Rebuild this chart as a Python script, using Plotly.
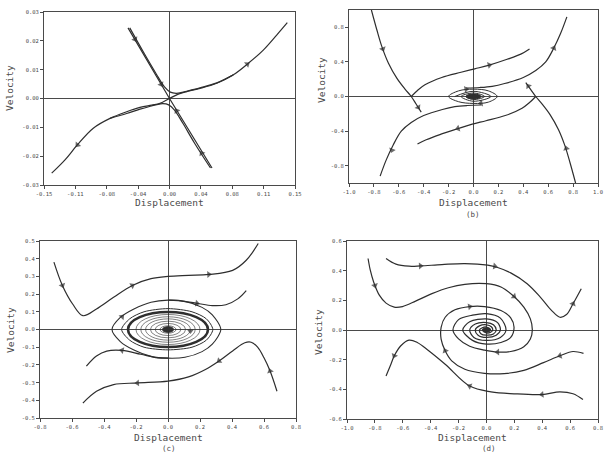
import plotly.graph_objects as go

# ---------------- data: panel (a) ----------------
a_x_ticks = [-0.15, -0.1125, -0.075, -0.0375, 0.0, 0.0375, 0.075, 0.1125, 0.15]
a_x_labels = ["-0.15", "-0.11", "-0.08", "-0.04", "0.00", "0.04", "0.08", "0.11", "0.15"]
a_y_ticks = [-0.03, -0.02, -0.01, 0.0, 0.01, 0.02, 0.03]
a_y_labels = ["-0.03", "-0.02", "-0.01", "0.00", "0.01", "0.02", "0.03"]

a_unst_x = [-0.1408, -0.1249, -0.1102, -0.0911, -0.0711, -0.0512, -0.0353, -0.0213, -0.0114, 0.0,
            0.0105, 0.0206, 0.0365, 0.0565, 0.0763, 0.0942, 0.1121, 0.1281, 0.1408]
a_unst_y = [-0.0259, -0.0213, -0.0161, -0.0103, -0.0069, -0.0046, -0.0031, -0.0023, -0.0017, 0.0,
            0.0015, 0.0024, 0.0035, 0.0053, 0.0082, 0.0122, 0.0168, 0.0220, 0.0263]
a_stab_x = [-0.0496, 0.0, 0.0508]
a_stab_y = [0.0245, 0.0, -0.0241]
a_h1_x = [-0.0475, -0.030, -0.016, -0.006, 0.001, 0.008, 0.015, 0.0215, 0.0365, 0.0565, 0.0763]
a_h1_y = [0.0245, 0.0155, 0.0086, 0.0040, 0.0022, 0.0018, 0.0021, 0.0026, 0.0037, 0.0054, 0.0082]
a_h2_x = [0.0490, 0.030, 0.016, 0.006, -0.001, -0.008, -0.015, -0.0215, -0.0353, -0.0512, -0.0711]
a_h2_y = [-0.0241, -0.0155, -0.0086, -0.0040, -0.0022, -0.0018, -0.0021, -0.0026, -0.0037, -0.0052, -0.0069]
a_arrow_x = [-0.0412, -0.0100, 0.0086, 0.0385, 0.0930, -0.1100]
a_arrow_y = [0.0205, 0.0049, -0.0043, -0.0190, 0.0119, -0.0161]
a_tail_x = [-0.0452, -0.0130, 0.0116, 0.0425, 0.0880, -0.1050]
a_tail_y = [0.0225, 0.0064, -0.0057, -0.0210, 0.0108, -0.0143]

# ---------------- data: panel (b) ----------------
b_x_ticks = [-1.0, -0.8, -0.6, -0.4, -0.2, 0.0, 0.2, 0.4, 0.6, 0.8, 1.0]
b_x_labels = ["-1.0", "-0.8", "-0.6", "-0.4", "-0.2", "0.0", "0.2", "0.4", "0.6", "0.8", "1.0"]
b_y_ticks = [-0.8, -0.4, 0.0, 0.4, 0.8]
b_y_labels = ["-0.8", "-0.4", "0.0", "0.4", "0.8"]

b_ls_x = [-0.82, -0.776, -0.736, -0.683, -0.616, -0.55, -0.50, -0.46, -0.42]
b_ls_y = [1.0, 0.769, 0.577, 0.385, 0.212, 0.085, 0.0, -0.09, -0.18]
b_rs_x = [0.42, 0.46, 0.50, 0.55, 0.616, 0.683, 0.736, 0.776, 0.82]
b_rs_y = [0.16, 0.08, 0.0, -0.085, -0.212, -0.385, -0.577, -0.769, -1.0]
b_up_x = [-0.50, -0.45, -0.39, -0.255, -0.10, 0.01, 0.12, 0.27, 0.38, 0.45]
b_up_y = [0.0, 0.07, 0.135, 0.22, 0.28, 0.32, 0.36, 0.43, 0.49, 0.55]
b_lo_x = [0.50, 0.45, 0.39, 0.255, 0.10, -0.01, -0.12, -0.27, -0.38, -0.45]
b_lo_y = [0.0, -0.07, -0.135, -0.22, -0.28, -0.32, -0.37, -0.44, -0.50, -0.55]
b_tr_x = [-0.06, 0.05, 0.15, 0.25, 0.40, 0.50, 0.58, 0.645, 0.70, 0.75]
b_tr_y = [0.098, 0.104, 0.118, 0.15, 0.22, 0.30, 0.40, 0.56, 0.73, 0.92]
b_bl_x = [0.06, -0.05, -0.15, -0.25, -0.40, -0.50, -0.58, -0.645, -0.70, -0.75]
b_bl_y = [-0.098, -0.104, -0.118, -0.15, -0.22, -0.30, -0.40, -0.56, -0.73, -0.92]
b_loop_x = [-0.20, -0.12, 0.0, 0.12, 0.19, 0.12, 0.0, -0.12, -0.20]
b_loop_y = [0.0, 0.065, 0.085, 0.065, 0.0, -0.065, -0.08, -0.06, 0.0]
b_spir_x = [-0.15, 0.0, 0.14, 0.0, -0.10, 0.0, 0.09, 0.0, -0.06, 0.0, 0.05, 0.0, -0.03, 0.0, 0.015]
b_spir_y = [0.0, 0.06, 0.0, -0.055, 0.0, 0.04, 0.0, -0.035, 0.0, 0.025, 0.0, -0.018, 0.0, 0.01, 0.0]
b_blob_rx = 0.06
b_blob_ry = 0.028
b_arrow_x = [-0.728, -0.444, 0.127, 0.645, 0.440, 0.745, -0.125, -0.655, -0.06, 0.06]
b_arrow_y = [0.550, -0.125, 0.363, 0.560, 0.120, -0.600, -0.370, -0.620, 0.084, -0.078]
b_tail_x = [-0.745, -0.460, 0.090, 0.625, 0.455, 0.755, -0.090, -0.640, -0.10, 0.10]
b_tail_y = [0.620, -0.090, 0.350, 0.500, 0.090, -0.660, -0.355, -0.560, 0.074, -0.068]

# ---------------- data: panel (c) ----------------
c_x_ticks = [-0.8, -0.6, -0.4, -0.2, 0.0, 0.2, 0.4, 0.6, 0.8]
c_x_labels = ["-0.8", "-0.6", "-0.4", "-0.2", "0.0", "0.2", "0.4", "0.6", "0.8"]
c_y_ticks = [-0.5, -0.4, -0.3, -0.2, -0.1, 0.0, 0.1, 0.2, 0.3, 0.4, 0.5]
c_y_labels = ["-0.5", "-0.4", "-0.3", "-0.2", "-0.1", "0.0", "0.1", "0.2", "0.3", "0.4", "0.5"]

c_top_x = [-0.713, -0.66, -0.596, -0.532, -0.447, -0.34, -0.223, -0.106, 0.0, 0.128, 0.255, 0.404, 0.489, 0.564]
c_top_y = [0.381, 0.249, 0.144, 0.078, 0.116, 0.182, 0.249, 0.287, 0.30, 0.306, 0.311, 0.334, 0.391, 0.486]
c_bup_x = [0.0, 0.064, 0.181, 0.277, 0.362, 0.436, 0.489]
c_bup_y = [0.166, 0.163, 0.148, 0.135, 0.14, 0.173, 0.22]
c_bdn_x = [0.0, -0.064, -0.17, -0.287, -0.383, -0.447, -0.51]
c_bdn_y = [-0.162, -0.16, -0.14, -0.118, -0.122, -0.15, -0.207]
c_bot_x = [0.681, 0.638, 0.60, 0.56, 0.52, 0.48, 0.404, 0.319, 0.234, 0.128, 0.0, -0.191, -0.34, -0.447, -0.532]
c_bot_y = [-0.349, -0.235, -0.16, -0.10, -0.072, -0.075, -0.121, -0.178, -0.226, -0.268, -0.292, -0.302, -0.311, -0.349, -0.416]
c_eye1_x = [-0.35, -0.298, -0.213, -0.106, 0.0, 0.106, 0.213, 0.277, 0.33, 0.277, 0.213, 0.106, 0.0, -0.106, -0.213, -0.298, -0.35]
c_eye1_y = [0.0, 0.068, 0.116, 0.154, 0.166, 0.159, 0.125, 0.083, 0.0, -0.083, -0.125, -0.157, -0.162, -0.152, -0.116, -0.068, 0.0]
c_eye2_x = [-0.29, -0.24, -0.15, 0.0, 0.15, 0.24, 0.28, 0.24, 0.15, 0.0, -0.15, -0.24, -0.29]
c_eye2_y = [0.0, 0.06, 0.10, 0.118, 0.10, 0.06, 0.0, -0.06, -0.10, -0.115, -0.10, -0.06, 0.0]
c_cycle_rx = 0.25
c_cycle_ry = 0.099
c_ring_rx = [0.20, 0.17, 0.14, 0.11, 0.08, 0.05]
c_ring_ry = [0.085, 0.072, 0.060, 0.047, 0.034, 0.021]
c_blob_r = [0.035, 0.016]
c_arrow_x = [-0.66, -0.223, 0.255, 0.181, -0.287, -0.191, 0.319, 0.638, -0.287, 0.14]
c_arrow_y = [0.249, 0.249, 0.311, 0.148, -0.118, -0.302, -0.178, -0.235, 0.072, -0.008]
c_tail_x = [-0.68, -0.26, 0.20, 0.13, -0.24, -0.12, 0.36, 0.655, -0.31, 0.14]
c_tail_y = [0.30, 0.23, 0.309, 0.155, -0.128, -0.298, -0.15, -0.29, 0.05, 0.008]

# ---------------- data: panel (d) ----------------
d_x_ticks = [-1.0, -0.8, -0.6, -0.4, -0.2, 0.0, 0.2, 0.4, 0.6, 0.8]
d_x_labels = ["-1.0", "-0.8", "-0.6", "-0.4", "-0.2", "0.0", "0.2", "0.4", "0.6", "0.8"]
d_y_ticks = [-0.6, -0.4, -0.2, 0.0, 0.2, 0.4, 0.6]
d_y_labels = ["-0.6", "-0.4", "-0.2", "0.0", "0.2", "0.4", "0.6"]

d_top_x = [-0.72, -0.649, -0.555, -0.473, -0.32, -0.155, 0.009, 0.08, 0.174, 0.292, 0.386, 0.468, 0.527, 0.574, 0.621, 0.68]
d_top_y = [0.482, 0.444, 0.43, 0.432, 0.441, 0.448, 0.437, 0.421, 0.385, 0.312, 0.222, 0.131, 0.086, 0.104, 0.177, 0.278]
d_a_x = [-0.849, -0.833, -0.809, -0.767, -0.72, -0.661, -0.602, -0.508, -0.391, -0.273, -0.155, 0.0, 0.104,
         0.198, 0.268, 0.315, 0.329, 0.315, 0.268, 0.174, 0.08, -0.014, -0.12, -0.20, -0.24, -0.20, -0.10,
         0.0, 0.10, 0.14, 0.10, 0.0, -0.09, -0.12, -0.08, 0.0, 0.05, 0.07, 0.05, 0.0, -0.04, -0.05, -0.03,
         0.0, 0.02, 0.03, 0.0]
d_a_y = [0.482, 0.403, 0.324, 0.233, 0.181, 0.154, 0.158, 0.195, 0.245, 0.285, 0.308, 0.312, 0.29,
         0.226, 0.154, 0.075, 0.0, -0.061, -0.113, -0.145, -0.149, -0.136, -0.11, -0.06, 0.0, 0.07, 0.10,
         0.11, 0.08, 0.0, -0.05, -0.07, -0.05, 0.0, 0.04, 0.05, 0.035, 0.0, -0.027, -0.035, -0.025, 0.0, 0.015,
         0.02, 0.01, 0.0, -0.005]
d_b_x = [0.696, 0.621, 0.527, 0.409, 0.268, 0.127, -0.014, -0.155, -0.249, -0.296, -0.325, -0.325, -0.296,
         -0.226, -0.12, -0.014, 0.104, 0.174, 0.198, 0.174, 0.104, 0.0, -0.10, -0.17, -0.12, 0.0, 0.08, 0.10,
         0.07, 0.0, -0.06, -0.08, -0.05, 0.0, 0.035, 0.045, 0.03, 0.0, -0.02]
d_b_y = [-0.158, -0.145, -0.174, -0.22, -0.272, -0.294, -0.292, -0.265, -0.208, -0.14, -0.061, 0.018, 0.086,
         0.136, 0.158, 0.158, 0.131, 0.082, 0.018, -0.05, -0.084, -0.095, -0.07, 0.0, 0.055, 0.075, 0.05, 0.0,
         -0.035, -0.05, -0.035, 0.0, 0.028, 0.035, 0.022, 0.0, -0.015, -0.02, -0.005]
d_c_x = [0.692, 0.621, 0.527, 0.398, 0.198, 0.033, -0.12, -0.296, -0.414, -0.496, -0.555, -0.614, -0.661, -0.685, -0.72]
d_c_y = [-0.469, -0.43, -0.417, -0.435, -0.43, -0.417, -0.378, -0.231, -0.14, -0.084, -0.068, -0.106, -0.174, -0.231, -0.31]
d_blob_r = [0.03, 0.015]
d_arrow_x = [-0.473, 0.06, 0.621, -0.80, 0.198, 0.08, 0.527, -0.296, -0.12, -0.661, -0.12, 0.398]
d_arrow_y = [0.432, 0.43, 0.177, 0.30, 0.226, -0.149, -0.174, -0.14, 0.158, -0.174, -0.378, -0.435]
d_tail_x = [-0.52, 0.01, 0.60, -0.812, 0.15, 0.13, 0.58, -0.275, -0.17, -0.64, -0.06, 0.45]
d_tail_y = [0.43, 0.437, 0.13, 0.34, 0.262, -0.148, -0.16, -0.185, 0.15, -0.13, -0.40, -0.43]

# ---------------- styling ----------------
W, H = 604, 457
LINE = "#2e2e2e"
AXIS = "#4a4a4a"
TEXT = "#4a4a4a"
MONO = "DejaVu Sans Mono, Liberation Mono, monospace"

# pixel boxes (left, right, top, bottom) for each panel
boxes = {
    "1": (44, 295, 12, 185),
    "2": (349, 598, 10, 183),
    "3": (40, 296, 241, 418),
    "4": (347, 598, 241, 419),
}

fig = go.Figure()


def axn(k, kind):
    return kind if k == "1" else kind + k


def curve(x, y, k, width=1.2, smooth=1.0, shape="spline"):
    fig.add_trace(go.Scatter(
        x=x, y=y, mode="lines",
        line=dict(color=LINE, width=width, shape=shape, smoothing=smooth),
        xaxis=axn(k, "x"), yaxis=axn(k, "y"), hoverinfo="skip", showlegend=False))


def arrows(hx, hy, tx, ty, k, size=6):
    xs, ys, ss = [], [], []
    for a, b, c, d in zip(tx, ty, hx, hy):
        xs += [a, c]
        ys += [b, d]
        ss += [0, size]
    fig.add_trace(go.Scatter(
        x=xs, y=ys, mode="markers",
        marker=dict(symbol="triangle-up", size=ss, color=LINE, angleref="previous",
                    line=dict(width=0)),
        xaxis=axn(k, "x"), yaxis=axn(k, "y"), hoverinfo="skip", showlegend=False))


def ellipse(rx, ry, k, width=0.8, fill=None):
    fig.add_shape(type="circle", xref=axn(k, "x"), yref=axn(k, "y"),
                  x0=-rx, x1=rx, y0=-ry, y1=ry,
                  line=dict(color=LINE, width=width),
                  fillcolor=fill if fill else "rgba(0,0,0,0)", layer="above")


# panel (a)
curve(a_unst_x, a_unst_y, "1")
curve(a_stab_x, a_stab_y, "1", shape="linear")
curve(a_h1_x, a_h1_y, "1")
curve(a_h2_x, a_h2_y, "1")
arrows(a_arrow_x, a_arrow_y, a_tail_x, a_tail_y, "1")

# panel (b)
for cx, cy in [(b_ls_x, b_ls_y), (b_rs_x, b_rs_y), (b_up_x, b_up_y), (b_lo_x, b_lo_y),
               (b_tr_x, b_tr_y), (b_bl_x, b_bl_y)]:
    curve(cx, cy, "2")
curve(b_loop_x, b_loop_y, "2", width=1.0)
curve(b_spir_x, b_spir_y, "2", width=1.0)
ellipse(b_blob_rx, b_blob_ry, "2", width=1, fill=LINE)
arrows(b_arrow_x, b_arrow_y, b_tail_x, b_tail_y, "2")

# panel (c)
for cx, cy in [(c_top_x, c_top_y), (c_bup_x, c_bup_y), (c_bdn_x, c_bdn_y), (c_bot_x, c_bot_y)]:
    curve(cx, cy, "3")
curve(c_eye1_x, c_eye1_y, "3", width=1.1, smooth=0.8)
curve(c_eye2_x, c_eye2_y, "3", width=1.0, smooth=0.8)
ellipse(c_cycle_rx, c_cycle_ry, "3", width=2.6)
for rx, ry in zip(c_ring_rx, c_ring_ry):
    ellipse(rx, ry, "3", width=0.6)
ellipse(c_blob_r[0], c_blob_r[1], "3", width=1, fill=LINE)
arrows(c_arrow_x, c_arrow_y, c_tail_x, c_tail_y, "3")

# panel (d)
curve(d_top_x, d_top_y, "4")
curve(d_a_x, d_a_y, "4", smooth=0.9)
curve(d_b_x, d_b_y, "4", smooth=0.9)
curve(d_c_x, d_c_y, "4")
ellipse(d_blob_r[0], d_blob_r[1], "4", width=1, fill=LINE)
arrows(d_arrow_x, d_arrow_y, d_tail_x, d_tail_y, "4")

# axes
ranges = {
    "1": ([-0.15, 0.15], [-0.03, 0.03], a_x_ticks, a_x_labels, a_y_ticks, a_y_labels),
    "2": ([-1.0, 1.0], [-1.0, 1.0], b_x_ticks, b_x_labels, b_y_ticks, b_y_labels),
    "3": ([-0.8, 0.8], [-0.5, 0.5], c_x_ticks, c_x_labels, c_y_ticks, c_y_labels),
    "4": ([-1.0, 0.8], [-0.6, 0.6], d_x_ticks, d_x_labels, d_y_ticks, d_y_labels),
}
layout = {}
tickfont = dict(family=MONO, size=5.5, color=TEXT)
for k, (l, r, t, b) in boxes.items():
    xr, yr, xt, xl, yt, yl = ranges[k]
    common = dict(showline=True, mirror=True, linecolor=AXIS, linewidth=1,
                  ticks="outside", ticklen=3, tickcolor=AXIS, tickwidth=1,
                  showgrid=False, zeroline=True, zerolinecolor=AXIS, zerolinewidth=1,
                  tickfont=tickfont, fixedrange=True, automargin=False)
    layout["xaxis" if k == "1" else "xaxis" + k] = dict(
        domain=[l / W, r / W], range=xr, tickvals=xt, ticktext=xl,
        anchor=axn(k, "y"), **common)
    layout["yaxis" if k == "1" else "yaxis" + k] = dict(
        domain=[1 - b / H, 1 - t / H], range=yr, tickvals=yt, ticktext=yl,
        anchor=axn(k, "x"), **common)

annots = []
title_font = dict(family=MONO, size=9.5, color=TEXT)
xt_pos = {"1": 203, "2": 203, "3": 437, "4": 437}
yt_pos = {"1": (10, 88), "2": (321, 80), "3": (10, 330), "4": (318, 332)}
for k, (l, r, t, b) in boxes.items():
    annots.append(dict(text="Displacement", x=(l + r) / 2 / W, y=1 - xt_pos[k] / H,
                       xref="paper", yref="paper", showarrow=False, font=title_font,
                       xanchor="center", yanchor="middle"))
    yx, yy = yt_pos[k]
    annots.append(dict(text="Velocity", x=yx / W, y=1 - yy / H, textangle=-90,
                       xref="paper", yref="paper", showarrow=False, font=title_font,
                       xanchor="center", yanchor="middle"))
panel_labels = [("(b)", 473, 214), ("(c)", 169, 448), ("(d)", 489, 448)]
for txt, px, py in panel_labels:
    annots.append(dict(text=txt, x=px / W, y=1 - py / H, xref="paper", yref="paper",
                       showarrow=False, font=dict(family=MONO, size=7.5, color=TEXT),
                       xanchor="center", yanchor="middle"))

fig.update_layout(width=W, height=H, autosize=False,
                  margin=dict(l=0, r=0, t=0, b=0),
                  paper_bgcolor="white", plot_bgcolor="white",
                  annotations=annots, **layout)

fig.write_html("out.html", config={"displayModeBar": False},
               post_script="document.body.style.margin='0';document.body.style.overflow='hidden';")
